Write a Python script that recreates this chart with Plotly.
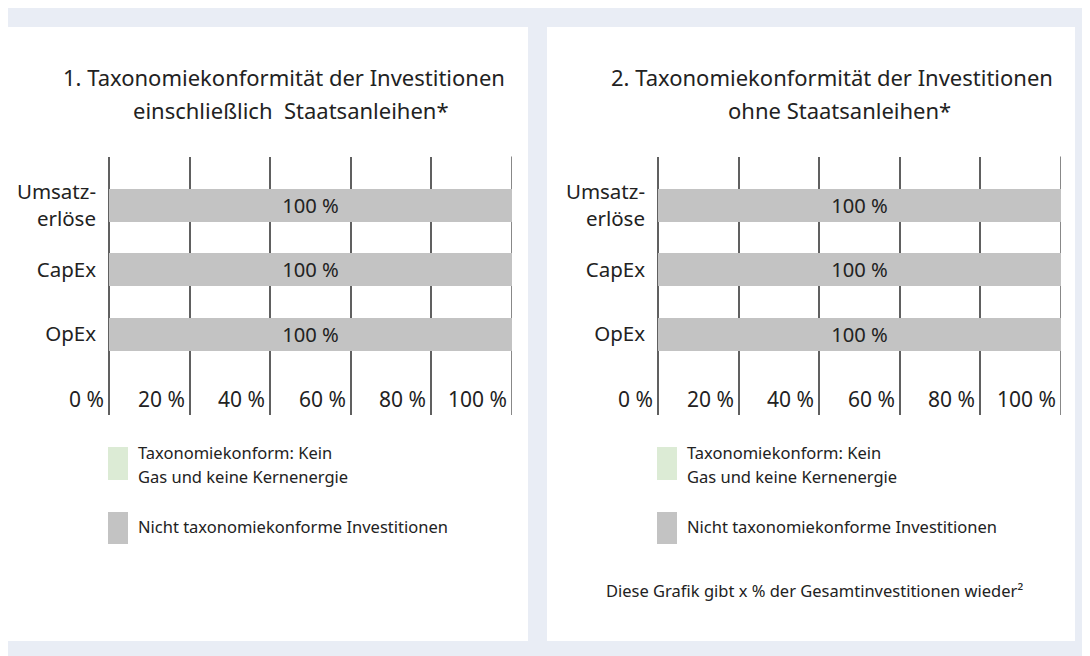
import plotly.graph_objects as go

W, H = 1090, 656
OFF = 8  # page body margin offsets the figure inside the browser window

categories = ["Umsatz-<br>erlöse", "CapEx", "OpEx"]
aligned_incl = [0, 0, 0]          # Taxonomiekonform: Kein Gas und keine Kernenergie
not_aligned_incl = [100, 100, 100]
aligned_excl = [0, 0, 0]
not_aligned_excl = [100, 100, 100]
x_ticks = [0, 20, 40, 60, 80, 100]
x_tick_labels = ["0 %", "20 %", "40 %", "60 %", "80 %", "100 %"]
titles = [
    ["1. Taxonomiekonformität der Investitionen", "einschließlich\u00a0 Staatsanleihen*"],
    ["2. Taxonomiekonformität der Investitionen", "ohne Staatsanleihen*"],
]
legend_labels = [["Taxonomiekonform: Kein", "Gas und keine Kernenergie"],
                 ["Nicht taxonomiekonforme Investitionen"]]
footnote = "Diese Grafik gibt x % der Gesamtinvestitionen wieder²"

FONT = "Noto Sans"
GREEN = "#dcebd5"
GREY = "#c3c3c3"
TXT = "#222222"
BG = "#e9edf5"


def px(x):
    return (x - OFF) / W


def py(y):
    return 1 - (y - OFF) / H


ypos = list(range(len(categories)))

fig = go.Figure()
panels = [
    dict(xa="x", ya="y", aligned=aligned_incl, notal=not_aligned_incl),
    dict(xa="x2", ya="y2", aligned=aligned_excl, notal=not_aligned_excl),
]
for i, p in enumerate(panels):
    fig.add_trace(go.Bar(
        y=ypos, x=p["aligned"], orientation="h", marker_color=GREEN,
        width=0.51, xaxis=p["xa"], yaxis=p["ya"], showlegend=False,
        hoverinfo="skip"))
    fig.add_trace(go.Bar(
        y=ypos, x=p["notal"], orientation="h", marker_color=GREY,
        marker_line_width=0, width=0.51, xaxis=p["xa"], yaxis=p["ya"],
        text=[f"{v} %" for v in p["notal"]], textposition="inside",
        insidetextanchor="middle", textangle=0,
        textfont=dict(family=FONT, size=21, color=TXT),
        showlegend=False, hoverinfo="skip"))

yr = [3.253, -0.755]
ydom = [py(415), py(156.5)]
xdoms = [[px(109), px(512)], [px(658), px(1061)]]

common_x = dict(range=[0, 100], tickvals=x_ticks, showticklabels=False,
                showgrid=True, gridcolor="#606060", gridwidth=1.5,
                zeroline=True, zerolinecolor="#606060", zerolinewidth=1.5,
                showline=False, ticks="", fixedrange=True)
common_y = dict(range=yr, domain=ydom, tickvals=ypos, ticktext=categories,
                showgrid=False, zeroline=False, showline=False, ticks="",
                ticklabelstandoff=12,
                tickfont=dict(family=FONT, size=20.5, color=TXT))

fig.update_layout(
    width=W, height=H, margin=dict(l=0, r=0, t=0, b=0),
    paper_bgcolor=BG, plot_bgcolor="rgba(0,0,0,0)",
    barmode="stack", showlegend=False,
    xaxis=dict(domain=xdoms[0], anchor="y", **common_x),
    yaxis=dict(anchor="x", **common_y),
    xaxis2=dict(domain=xdoms[1], anchor="y2", **common_x),
    yaxis2=dict(anchor="x2", **common_y),
    font=dict(family=FONT, color=TXT),
)

shapes = []
for x0, x1 in [(2, 528), (547, 1075)]:
    shapes.append(dict(type="rect", xref="paper", yref="paper",
                       x0=px(x0), x1=px(x1), y0=py(641), y1=py(27),
                       fillcolor="white", line_width=0, layer="below"))
# 100 % gridline at the right edge of each plot
for xa in ["x", "x2"]:
    shapes.append(dict(type="line", xref=xa, yref="paper", x0=100, x1=100,
                       y0=ydom[0], y1=ydom[1], line=dict(color="#606060", width=1.5),
                       layer="below"))

annotations = []
title_cx = [284, 832]
for k, (t1, t2) in enumerate(titles):
    annotations.append(dict(text=t1, xref="paper", yref="paper", x=px(title_cx[k]),
                            y=py(77), xanchor="center", yanchor="middle", showarrow=False,
                            font=dict(family=FONT, size=22, color=TXT)))
    annotations.append(dict(text=t2, xref="paper", yref="paper", x=px(title_cx[k] + 7),
                            y=py(110), xanchor="center", yanchor="middle", showarrow=False,
                            font=dict(family=FONT, size=22, color=TXT)))

# x tick labels inside the plot, left of each gridline
for xa, ya in [("x", "y"), ("x2", "y2")]:
    for v, lab in zip(x_ticks, x_tick_labels):
        annotations.append(dict(text=lab, xref=xa, yref=ya, x=v, y=3.0,
                                xanchor="right", yanchor="middle", xshift=-3,
                                showarrow=False,
                                font=dict(family=FONT, size=21, color=TXT)))

# custom legends
for lx in [108, 657]:
    shapes.append(dict(type="rect", xref="paper", yref="paper", x0=px(lx), x1=px(lx + 20),
                       y0=py(480), y1=py(447), fillcolor=GREEN, line_width=0))
    shapes.append(dict(type="rect", xref="paper", yref="paper", x0=px(lx), x1=px(lx + 20),
                       y0=py(544), y1=py(512), fillcolor=GREY, line_width=0))
    for txt, yy in zip(legend_labels[0], [452, 476]):
        annotations.append(dict(text=txt, xref="paper", yref="paper", x=px(lx + 28),
                                y=py(yy), xanchor="left", yanchor="middle", showarrow=False,
                                font=dict(family=FONT, size=16.5, color=TXT)))
    annotations.append(dict(text=legend_labels[1][0], xref="paper", yref="paper",
                            x=px(lx + 28), y=py(526), xanchor="left", yanchor="middle",
                            showarrow=False, font=dict(family=FONT, size=16.5, color=TXT)))

annotations.append(dict(text=footnote, xref="paper", yref="paper", x=px(814), y=py(590),
                        xanchor="center", yanchor="middle", showarrow=False,
                        font=dict(family=FONT, size=16.5, color=TXT)))

fig.update_layout(shapes=shapes, annotations=annotations)
fig.write_html("out.html")
